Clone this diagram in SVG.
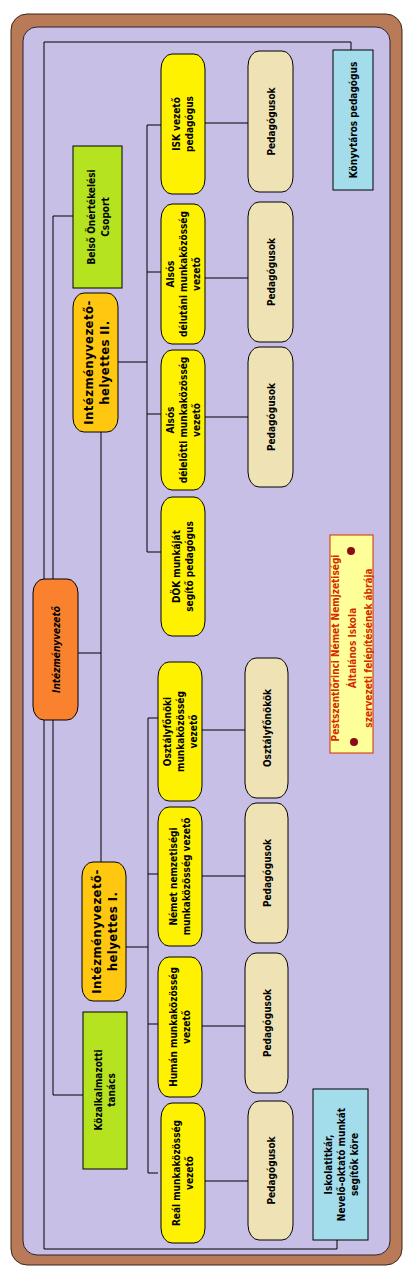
<svg xmlns="http://www.w3.org/2000/svg" width="420" height="1274" viewBox="0 0 420 1274">
<style>
text{font-family:"DejaVu Sans Condensed","DejaVu Sans",sans-serif;font-weight:bold;font-size:10px;fill:#000;text-anchor:middle}
.box{stroke:#000;stroke-width:1}
.yel{fill:#FFF200}
.bei{fill:#EFE3B5}
.grn{fill:#B5E31F}
.cyn{fill:#A3DCEB}
.org{fill:#FFC710}
.ora{fill:#FA822F}
.big{font-size:13px;letter-spacing:0.4px}
.ttl{fill:#D42A00;font-size:10px}
#connectors path{fill:none;stroke:#000;stroke-width:1}
</style>
<rect x="11" y="14" width="391" height="1251" rx="16" fill="#B97A58" stroke="#3A2418"/>
<rect x="23" y="27" width="367" height="1228" rx="14" fill="#C8BFE7" stroke="#2A2030"/>
<g id="connectors">
<path d="M351,50V42H44V579"/>
<path d="M44,720V1249H337V1240"/>
<path d="M73,216H53V579"/>
<path d="M53,720V1095H83"/>
<path d="M78,653H101"/>
<path d="M101,432V862"/>
<path d="M118,362H147"/>
<path d="M147,125V552"/>
<path d="M147,125H161M147,272H161M147,414H161M147,552H161"/>
<path d="M205,123H248M205,278H248M205,417H248"/>
<path d="M126,947H148"/>
<path d="M148,718V1173"/>
<path d="M148,718H158M148,874H158M148,1024H158M148,1173H158"/>
<path d="M202,730H245M202,876H245M202,1026H245M202,1181H248"/>
</g>
<g id="konyvtaros"><rect class="box cyn" x="333" y="50" width="40" height="140"/>
<text transform="translate(353,120) rotate(-90)" y="4">Könyvtáros pedagógus</text></g>
<g id="iskolatitkar"><rect class="box cyn" x="313" y="1089" width="55" height="151"/>
<text transform="translate(340.5,1164.5) rotate(-90)"><tspan x="0" y="-9">Iskolatitkár,</tspan><tspan x="0" y="4">Nevelő-oktató munkát</tspan><tspan x="0" y="17">segítők köre</tspan></text></g>
<g id="belso"><rect class="box grn" x="73" y="146" width="49" height="142"/>
<text transform="translate(97.5,217) rotate(-90)"><tspan x="0" y="-3">Belső Önértékelési</tspan><tspan x="0" y="11">Csoport</tspan></text></g>
<g id="kozalkalmazotti"><rect class="box grn" x="83" y="1012" width="44" height="157"/>
<text transform="translate(105,1090) rotate(-90)"><tspan x="0" y="-3">Közalkalmazotti</tspan><tspan x="0" y="10">tanács</tspan></text></g>
<g id="intezmenyvezeto"><rect class="box ora" x="33" y="579" width="45" height="141" rx="11" ry="14"/>
<text transform="translate(55.5,649.5) rotate(-90)" y="4.5" font-style="italic" font-size="12.5">Intézményvezető</text></g>
<g id="helyettes2"><rect class="box org" x="73" y="293" width="45" height="139" rx="11" ry="14"/>
<text class="big" transform="translate(95.5,362.5) rotate(-90)"><tspan x="0" y="-3">Intézményvezető-</tspan><tspan x="0" y="13">helyettes  II.</tspan></text></g>
<g id="helyettes1"><rect class="box org" x="82" y="862" width="44" height="139" rx="11" ry="14"/>
<text class="big" transform="translate(104,931.5) rotate(-90)"><tspan x="0" y="-3">Intézményvezető-</tspan><tspan x="0" y="13">helyettes I.</tspan></text></g>
<g id="isk"><rect class="box yel" x="161" y="54" width="44" height="140" rx="11" ry="15"/>
<text transform="translate(183,124) rotate(-90)"><tspan x="0" y="-3">ISK vezető</tspan><tspan x="0" y="10">pedagógus</tspan></text></g>
<g id="alsos-delutani"><rect class="box yel" x="161" y="204" width="44" height="140" rx="11" ry="15"/>
<text transform="translate(183,274) rotate(-90)"><tspan x="0" y="-9">Alsós</tspan><tspan x="0" y="4">délutáni munkaközösség</tspan><tspan x="0" y="17">vezető</tspan></text></g>
<g id="alsos-delelotti"><rect class="box yel" x="161" y="350" width="44" height="140" rx="11" ry="15"/>
<text transform="translate(183,420) rotate(-90)"><tspan x="0" y="-9">Alsós</tspan><tspan x="0" y="4">délelőtti munkaközösség</tspan><tspan x="0" y="17">vezető</tspan></text></g>
<g id="dok"><rect class="box yel" x="161" y="497" width="44" height="139" rx="11" ry="15"/>
<text transform="translate(183,566.5) rotate(-90)"><tspan x="0" y="-3">DÖK munkáját</tspan><tspan x="0" y="10">segítő pedagógus</tspan></text></g>
<g id="ped-u1"><rect class="box bei" x="248" y="51" width="45" height="141" rx="11" ry="15"/>
<text transform="translate(270.5,121.5) rotate(-90)" y="4">Pedagógusok</text></g>
<g id="ped-u2"><rect class="box bei" x="248" y="202" width="45" height="140" rx="11" ry="15"/>
<text transform="translate(270.5,272) rotate(-90)" y="4">Pedagógusok</text></g>
<g id="ped-u3"><rect class="box bei" x="248" y="347" width="45" height="140" rx="11" ry="15"/>
<text transform="translate(270.5,417) rotate(-90)" y="4">Pedagógusok</text></g>
<g id="osztalyfonoki"><rect class="box yel" x="158" y="662" width="44" height="139" rx="11" ry="15"/>
<text transform="translate(180,731.5) rotate(-90)"><tspan x="0" y="-9">Osztályfőnöki</tspan><tspan x="0" y="4">munkaközösség</tspan><tspan x="0" y="17">vezető</tspan></text></g>
<g id="nemet"><rect class="box yel" x="158" y="807" width="44" height="139" rx="11" ry="15"/>
<text transform="translate(180,876.5) rotate(-90)"><tspan x="0" y="-3">Német nemzetiségi</tspan><tspan x="0" y="10">munkaközösség vezető</tspan></text></g>
<g id="human"><rect class="box yel" x="158" y="957" width="44" height="140" rx="11" ry="15"/>
<text transform="translate(180,1027) rotate(-90)"><tspan x="0" y="-3">Humán munkaközösség</tspan><tspan x="0" y="10">vezető</tspan></text></g>
<g id="real"><rect class="box yel" x="161" y="1103" width="44" height="140" rx="11" ry="15"/>
<text transform="translate(183,1173) rotate(-90)"><tspan x="0" y="-3">Reál munkaközösség</tspan><tspan x="0" y="10">vezető</tspan></text></g>
<g id="osztalyfonokok"><rect class="box bei" x="245" y="658" width="43" height="140" rx="11" ry="15"/>
<text transform="translate(266.5,728) rotate(-90)" y="4">Osztályfőnökök</text></g>
<g id="ped-l1"><rect class="box bei" x="245" y="803" width="43" height="140" rx="11" ry="15"/>
<text transform="translate(266.5,873) rotate(-90)" y="4">Pedagógusok</text></g>
<g id="ped-l2"><rect class="box bei" x="245" y="953" width="43" height="140" rx="11" ry="15"/>
<text transform="translate(266.5,1023) rotate(-90)" y="4">Pedagógusok</text></g>
<g id="ped-l3"><rect class="box bei" x="248" y="1101" width="45" height="139" rx="11" ry="15"/>
<text transform="translate(270.5,1170.5) rotate(-90)" y="4">Pedagógusok</text></g>
<g id="title"><rect x="330" y="535" width="43" height="218" fill="#FFFF9A" stroke="#D42A00"/>
<circle cx="351" cy="551" r="4" fill="#8E0A14"/>
<circle cx="354" cy="742" r="4" fill="#8E0A14"/>
<text class="ttl" transform="translate(351.5,648) rotate(-90)"><tspan x="0" y="-13">Pestszentlőrinci Német Nemjzetiségi</tspan><tspan x="0" y="4">Általános Iskola</tspan><tspan x="0" y="20">szervezeti felépítésének ábrája</tspan></text></g>
</svg>
